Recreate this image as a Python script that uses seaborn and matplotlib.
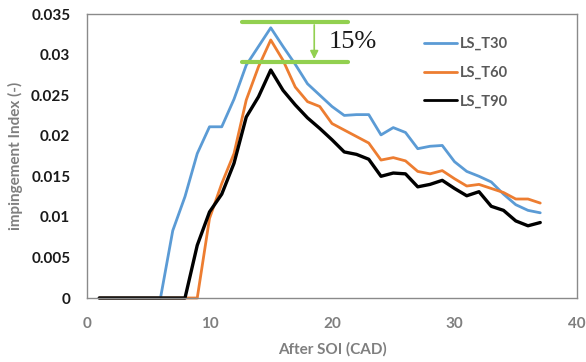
import numpy as np
import pandas as pd
import matplotlib
matplotlib.use("Agg")
import matplotlib.pyplot as plt
import seaborn as sns

# ---- data ----
cad = list(range(1, 38))
ls_t30 = [0, 0, 0, 0, 0, 0, 0.0083, 0.0125, 0.0178, 0.0211, 0.0211, 0.0245, 0.0287, 0.0310, 0.0333,
          0.0310, 0.0288, 0.0264, 0.0250, 0.0236, 0.0225, 0.0226, 0.0226, 0.0201, 0.0210, 0.0204,
          0.0184, 0.0187, 0.0188, 0.0168, 0.0156, 0.0150, 0.0143, 0.0128, 0.0115, 0.0108, 0.0105]
ls_t60 = [0, 0, 0, 0, 0, 0, 0, 0, 0, 0.0098, 0.0141, 0.0178, 0.0244, 0.0285, 0.0318,
          0.0293, 0.0260, 0.0242, 0.0236, 0.0215, 0.0207, 0.0199, 0.0191, 0.0170, 0.0173, 0.0169,
          0.0156, 0.0153, 0.0157, 0.0147, 0.0138, 0.0140, 0.0135, 0.0130, 0.0122, 0.0122, 0.0117]
ls_t90 = [0, 0, 0, 0, 0, 0, 0, 0, 0.0065, 0.0106, 0.0128, 0.0166, 0.0223, 0.0248, 0.0281,
          0.0256, 0.0238, 0.0222, 0.0209, 0.0195, 0.0180, 0.0177, 0.0171, 0.0150, 0.0154, 0.0153,
          0.0137, 0.0140, 0.0145, 0.0135, 0.0126, 0.0131, 0.0113, 0.0108, 0.0095, 0.0089, 0.0093]
series_names = ["LS_T30", "LS_T60", "LS_T90"]
series_colors = ["#5B9BD5", "#ED7D31", "#000000"]
x_ticks = [0, 10, 20, 30, 40]
y_ticks = [0, 0.005, 0.01, 0.015, 0.02, 0.025, 0.03, 0.035]
y_tick_labels = ["0", "0.005", "0.01", "0.015", "0.02", "0.025", "0.03", "0.035"]
band_top = 0.0340
band_bottom = 0.0291
band_x = [12.65, 21.3]
arrow_x = 18.55
annot_text = "15%"

df = pd.DataFrame({
    "CAD": cad * 3,
    "value": ls_t30 + ls_t60 + ls_t90,
    "series": sum([[n] * len(cad) for n in series_names], []),
})

sns.set_theme(style="white")
plt.rcParams["font.family"] = ["Lato", "DejaVu Sans"]

fig = plt.figure(figsize=(5.86, 3.62), dpi=100)
ax = fig.add_axes([87 / 586, 64 / 362, 490 / 586, 284 / 362])

sns.lineplot(data=df, x="CAD", y="value", hue="series", palette=series_colors,
             hue_order=series_names, ax=ax, linewidth=2.0, legend=True)
for ln, lw in zip(ax.get_lines()[:3], [2.0, 2.0, 2.4]):
    ln.set_linewidth(lw)
    ln.set_clip_on(False)

ax.set_xlim(0, 40)
ax.set_ylim(0, 0.035)
ax.set_xticks(x_ticks)
ax.set_yticks(y_ticks)
ax.set_yticklabels(y_tick_labels)
ax.tick_params(axis="y", length=0, pad=12)
ax.tick_params(axis="x", length=0, pad=14)
for lab in ax.get_yticklabels():
    lab.set_fontweight("bold")
    lab.set_fontsize(11)
    lab.set_color("#1a1a1a")
for lab in ax.get_xticklabels():
    lab.set_fontweight("bold")
    lab.set_fontsize(11)
    lab.set_color("#7f7f7f")

ax.set_xlabel("After SOI (CAD)", fontsize=11, fontweight="bold", color="#7f7f7f", labelpad=8)
ax.set_ylabel("impingement Index (-)", fontsize=11, fontweight="bold", color="#7f7f7f", labelpad=6)

for sp in ax.spines.values():
    sp.set_color("#8a8a8a")
    sp.set_linewidth(1.0)

# annotation
green = "#92D050"
ax.plot(band_x, [band_top, band_top], color=green, lw=3, clip_on=False)
ax.plot(band_x, [band_bottom, band_bottom], color=green, lw=3, clip_on=False)
ax.annotate("", xy=(arrow_x, band_bottom), xytext=(arrow_x, band_top),
            arrowprops=dict(arrowstyle="-|>", color=green, lw=1.2, mutation_scale=12))
ax.text(19.7, 0.0315, annot_text, fontsize=19, family="Liberation Serif",
        color="#1a1a1a", va="center", ha="left")

leg = ax.legend(loc="upper left", bbox_to_anchor=(0.66, 0.965), frameon=False,
                fontsize=10.5, handlelength=2.3, handletextpad=0.2, labelspacing=1.0)
for t in leg.get_texts():
    t.set_color("#595959")
    t.set_fontweight("bold")

fig.savefig("out.png", dpi=100)
